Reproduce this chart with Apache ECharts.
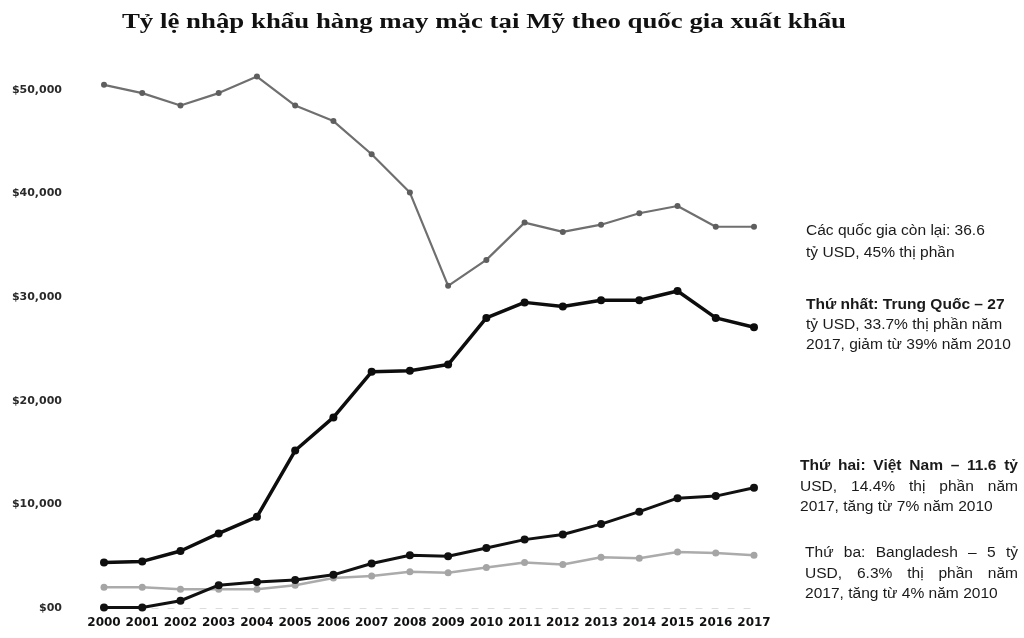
<!DOCTYPE html>
<html><head><meta charset="utf-8">
<script src="https://cdn.jsdelivr.net/npm/echarts@6/dist/echarts.min.js"></script>
<style>html,body{margin:0;padding:0;background:#fff}#c{width:1024px;height:638px}</style>
</head><body><div id="c"></div>
<script>
const years = ['2000','2001','2002','2003','2004','2005','2006','2007','2008','2009','2010','2011','2012','2013','2014','2015','2016','2017'];
const yTicks = [0, 10000, 20000, 30000, 40000, 50000];
const others = [50500,49700,48500,49700,51300,48500,47000,43800,40100,31100,33600,37200,36300,37000,38100,38800,36800,36800];
const china = [4400,4500,5500,7200,8800,15200,18400,22800,22900,23500,28000,29500,29100,29700,29700,30600,28000,27100];
const vietnam = [50,50,700,2200,2500,2700,3200,4300,5100,5000,5800,6600,7100,8100,9300,10600,10800,11600];
const bangladesh = [2000,2000,1800,1800,1800,2200,2900,3100,3500,3400,3900,4400,4200,4900,4800,5400,5300,5100];
const titleText = 'Tỷ lệ nhập khẩu hàng may mặc tại Mỹ theo quốc gia xuất khẩu';
const notes = [
  {x:806, w:198, y:[231,253], lines:[
    {t:'Các quốc gia còn lại: 36.6'},
    {t:'tỷ USD, 45% thị phần'}]},
  {x:806, w:198, y:[305,325,345], lines:[
    {t:'Thứ nhất: Trung Quốc – 27', b:true},
    {t:'tỷ USD, 33.7% thị phần năm'},
    {t:'2017, giảm từ 39% năm 2010'}]},
  {x:800, w:218, y:[466,487,507], lines:[
    {t:'Thứ hai: Việt Nam – 11.6 tỷ', b:true, j:true},
    {t:'USD, 14.4% thị phần năm', j:true},
    {t:'2017, tăng từ 7% năm 2010'}]},
  {x:805, w:213, y:[553,574,594], lines:[
    {t:'Thứ ba: Bangladesh – 5 tỷ', j:true},
    {t:'USD, 6.3% thị phần năm', j:true},
    {t:'2017, tăng từ 4% năm 2010'}]}
];

const FONT = '"Liberation Sans", Arial, sans-serif';
const FS = 14;
const SX = 1.11;
const ctx = document.createElement('canvas').getContext('2d');
function measure(s, bold){ ctx.font = (bold?'bold ':'') + FS + 'px ' + FONT; return ctx.measureText(s).width * SX; }
const graphics = [];
graphics.push({type:'text', x:484, y:22, scaleX:1.22, style:{text:titleText, textAlign:'center', textVerticalAlign:'middle',
  fontFamily:'"Liberation Serif", "Times New Roman", serif', fontWeight:'bold', fontSize:22, fill:'#111'}});
notes.forEach(n => {
  n.lines.forEach((ln, i) => {
    const style = {fontFamily: FONT, fontSize: FS, fontWeight: ln.b ? 'bold' : 'normal', fill: '#1a1a1a', textVerticalAlign: 'middle', textAlign:'left'};
    if (ln.j) {
      const words = ln.t.split(' ');
      const ws = words.map(w => measure(w, ln.b));
      const sum = ws.reduce((a,b)=>a+b,0);
      const gap = (n.w - sum) / (words.length - 1);
      let x = n.x;
      words.forEach((w, k) => {
        graphics.push({type:'text', x: x, y: n.y[i], scaleX:SX, style: Object.assign({text: w}, style)});
        x += ws[k] + gap;
      });
    } else {
      graphics.push({type:'text', x: n.x, y: n.y[i], scaleX:SX, style: Object.assign({text: ln.t}, style)});
    }
  });
});

const chart = echarts.init(document.getElementById('c'), null, {renderer:'canvas'});
function ser(name, data, color, width, sym, symColor, z){
  return {name, type:'line', data, clip:false, z, symbol:'circle', symbolSize:sym,
    lineStyle:{color, width}, itemStyle:{color: symColor || color}, emphasis:{disabled:true}};
}
chart.setOption({
  animation:false,
  grid:{left:104, right:270, top:90, bottom:30, containLabel:false},
  xAxis:{type:'category', data:years, boundaryGap:false,
    axisLine:{show:true, lineStyle:{color:'#dcdcdc', width:1, type:[6,10]}},
    axisTick:{show:false},
    axisLabel:{interval:0, hideOverlap:false, margin:9, color:'#111', fontFamily:'"DejaVu Sans", sans-serif', fontWeight:'bold', fontSize:12}},
  yAxis:{type:'value', min:0, max:50000, interval:10000,
    splitLine:{show:false}, axisLine:{show:false}, axisTick:{show:false},
    axisLabel:{margin:42, color:'#2a2a2a', fontFamily:'"DejaVu Sans", sans-serif', fontWeight:'bold', fontSize:11,
      formatter: v => v === 0 ? '$00' : '$' + v.toLocaleString('en-US')}},
  series:[
    ser('Các quốc gia còn lại', others, '#6f6f6f', 2.2, 6, '#5e5e5e', 2),
    ser('Bangladesh', bangladesh, '#ababab', 2.5, 7, '#a5a5a5', 3),
    ser('Việt Nam', vietnam, '#111', 3, 8, '#111', 4),
    ser('Trung Quốc', china, '#0d0d0d', 3.5, 8, '#0d0d0d', 5)
  ],
  graphic: graphics
});
</script></body></html>
